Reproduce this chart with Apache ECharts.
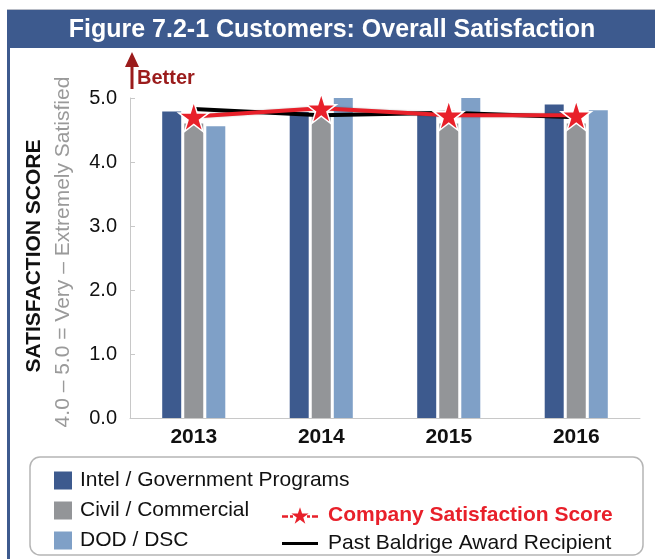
<!DOCTYPE html>
<html>
<head>
<meta charset="utf-8">
<script src="https://cdn.jsdelivr.net/npm/echarts@6/dist/echarts.min.js"></script>
<style>
  html, body { margin: 0; padding: 0; background: #fff; }
  #chart { width: 655px; height: 559px; }
</style>
</head>
<body>
<div id="chart"></div>
<script>
// data
var years = ['2013', '2014', '2015', '2016'];
var intelGov = [4.79, 4.78, 4.78, 4.9];
var civilCommercial = [4.6, 4.7, 4.6, 4.6];
var dodDsc = [4.56, 5.0, 5.0, 4.81];
var companyScore = [4.71, 4.84, 4.73, 4.73];
var pastBaldrige = [4.83, 4.73, 4.77, 4.7];
var yTicks = ['0.0', '1.0', '2.0', '3.0', '4.0', '5.0'];

var FONT = '"Liberation Sans", Arial, sans-serif';
var STAR = 'path://M50,0 L61.2,34.5 L97.6,34.5 L68.2,55.9 L79.4,90.5 L50,69.1 L20.6,90.5 L31.8,55.9 L2.4,34.5 L38.8,34.5 Z';
// legend icons: dashed line with a star, plain line
var STAR_DASH_ICON = 'path://M0,8 L6,8 L6,10.5 L0,10.5 Z M8,8 L11,8 L11,10.5 L8,10.5 Z M25,8 L28,8 L28,10.5 L25,10.5 Z M30,8 L36,8 L36,10.5 L30,10.5 Z ' +
  'M18,0 L20.1,6.2 L26.6,6.2 L21.3,10.1 L23.3,16.3 L18,12.5 L12.7,16.3 L14.7,10.1 L9.4,6.2 L15.9,6.2 Z';
var LINE_ICON = 'path://M0,0 L36,0 L36,3 L0,3 Z';

var chart = echarts.init(document.getElementById('chart'));

var option = {
  animation: false,
  textStyle: { fontFamily: FONT },
  grid: { left: 130, right: 15, top: 98, bottom: 141 },
  xAxis: {
    type: 'category',
    data: years,
    axisLine: { lineStyle: { color: '#c8c8c8', width: 1 } },
    axisTick: { inside: true, length: 5, lineStyle: { color: '#c8c8c8' } },
    axisLabel: { color: '#111', fontSize: 21, fontWeight: 'bold', margin: 9, fontFamily: FONT }
  },
  yAxis: {
    type: 'value',
    min: 0,
    max: 5,
    interval: 1,
    splitLine: { show: false },
    axisLine: { show: true, lineStyle: { color: '#c8c8c8', width: 1 } },
    axisTick: { show: true, inside: true, length: 5, lineStyle: { color: '#c8c8c8' } },
    axisLabel: {
      color: '#111', fontSize: 20, margin: 13, fontFamily: FONT,
      formatter: function (v) { return yTicks[Math.round(v)]; }
    }
  },
  legend: [
    {
      orient: 'vertical',
      left: 49,
      top: 465,
      icon: 'rect',
      itemWidth: 18,
      itemHeight: 18,
      itemGap: 9,
      selectedMode: false,
      textStyle: { color: '#111', fontSize: 21, fontFamily: FONT, padding: [0, 0, 0, 3] },
      data: ['Intel / Government Programs', 'Civil / Commercial', 'DOD / DSC']
    },
    {
      orient: 'vertical',
      left: 277,
      top: 500,
      itemWidth: 36,
      itemHeight: 18,
      itemGap: 7,
      selectedMode: false,
      textStyle: { color: '#111', fontSize: 21, fontFamily: FONT, padding: [0, 0, 0, 5] },
      data: [
        {
          name: 'Company Satisfaction Score',
          icon: STAR_DASH_ICON,
          itemStyle: { color: '#e8202a', borderWidth: 0 },
          textStyle: { color: '#e8202a', fontWeight: 'bold' }
        },
        {
          name: 'Past Baldrige Award Recipient',
          icon: LINE_ICON,
          itemStyle: { color: '#000', borderWidth: 0 }
        }
      ]
    }
  ],
  graphic: [
    // outer frame
    { type: 'rect', shape: { x: 7, y: 9, width: 648, height: 1 }, style: { fill: '#b8bcc6' }, silent: true },
    { type: 'rect', shape: { x: 7, y: 10, width: 3, height: 549 }, style: { fill: '#3d5a8e' }, silent: true },
    { type: 'rect', shape: { x: 7, y: 10, width: 648, height: 38 }, style: { fill: '#3d5a8e' }, silent: true },
    {
      type: 'text', x: 332, y: 30,
      style: {
        text: 'Figure 7.2-1 Customers: Overall Satisfaction',
        fill: '#fff', font: 'bold 25px ' + FONT, align: 'center', verticalAlign: 'middle'
      }
    },
    // better arrow
    { type: 'rect', shape: { x: 130.5, y: 64, width: 3, height: 25 }, style: { fill: '#9b1c1c' } },
    { type: 'polygon', shape: { points: [[132, 52], [125, 67], [139, 67]] }, style: { fill: '#9b1c1c' } },
    {
      type: 'text', x: 137, y: 78,
      style: { text: 'Better', fill: '#9b1c1c', font: 'bold 20px ' + FONT, align: 'left', verticalAlign: 'middle' }
    },
    // y axis titles
    {
      type: 'text', x: 34, y: 256, rotation: Math.PI / 2,
      style: { text: 'SATISFACTION SCORE', fill: '#111', font: 'bold 21px ' + FONT, align: 'center', verticalAlign: 'middle' }
    },
    {
      type: 'text', x: 63, y: 252, rotation: Math.PI / 2,
      style: { text: '4.0 \u2013 5.0 = Very \u2013 Extremely Satisfied', fill: '#9a9a9a', font: '21px ' + FONT, align: 'center', verticalAlign: 'middle' }
    },
    // legend box
    {
      type: 'rect', z: -1,
      shape: { x: 30, y: 457, width: 613, height: 98, r: 10 },
      style: { fill: '#fff', stroke: '#b5b5b5', lineWidth: 1.5 }
    }
  ],
  series: [
    {
      name: 'Intel / Government Programs',
      type: 'bar',
      data: intelGov,
      barWidth: 19,
      barGap: '16%',
      itemStyle: { color: '#3d5a8e' }
    },
    {
      name: 'Civil / Commercial',
      type: 'bar',
      data: civilCommercial,
      barWidth: 19,
      barGap: '16%',
      itemStyle: { color: '#939598' }
    },
    {
      name: 'DOD / DSC',
      type: 'bar',
      data: dodDsc,
      barWidth: 19,
      barGap: '16%',
      itemStyle: { color: '#7fa0c7' }
    },
    {
      name: 'Past Baldrige Award Recipient',
      type: 'line',
      data: pastBaldrige,
      symbol: 'none',
      z: 3,
      lineStyle: { color: '#000', width: 4 },
      itemStyle: { color: '#000' }
    },
    {
      name: 'Company Satisfaction Score',
      type: 'line',
      data: companyScore,
      symbol: STAR,
      symbolSize: 30,
      z: 4,
      lineStyle: { color: '#e8202a', width: 4, shadowColor: 'rgba(0,0,0,0.25)', shadowBlur: 2 },
      itemStyle: { color: '#e8202a', borderColor: '#fff', borderWidth: 1.5 }
    }
  ]
};

chart.setOption(option);
</script>
</body>
</html>
